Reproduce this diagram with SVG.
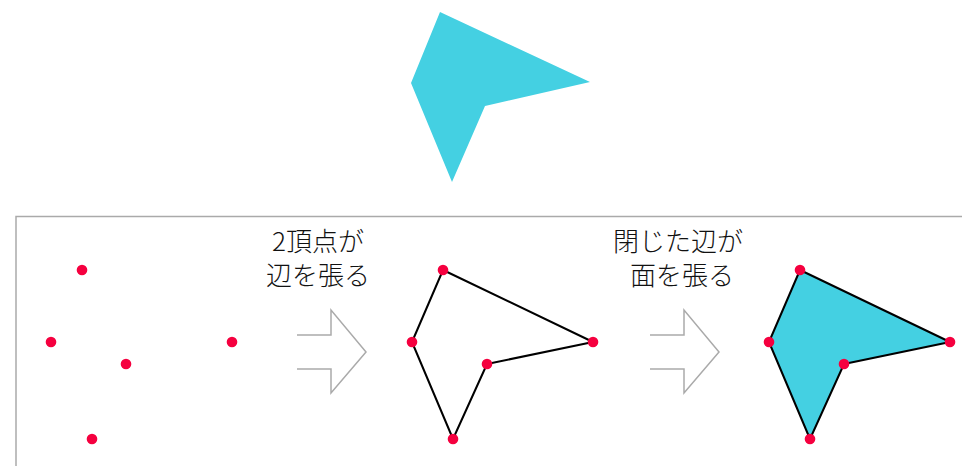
<svg xmlns="http://www.w3.org/2000/svg" width="962" height="466" viewBox="0 0 962 466">
<style>
.dot{fill:#f5003f}
.shape{fill:#44d0e2}
.edge{fill:none;stroke:#000;stroke-width:2;stroke-linejoin:round}
.arrow{fill:none;stroke:#aaa;stroke-width:1.5}
.lbl{font-family:"Noto Sans CJK JP","Noto Sans",sans-serif;font-size:26px;font-weight:300;fill:#111;text-anchor:middle}
</style>
<rect width="962" height="466" fill="#fff"/>
<g id="target">
<polygon class="shape" points="440,12 590,82 485,106 452,182 411,83"/>
</g>
<rect id="panel" x="16" y="216.5" width="960" height="260" fill="none" stroke="#aaa" stroke-width="1.5"/>
<g id="points">
<circle class="dot" cx="82" cy="270" r="5.3"/>
<circle class="dot" cx="51" cy="342" r="5.3"/>
<circle class="dot" cx="126" cy="364" r="5.3"/>
<circle class="dot" cx="232" cy="342" r="5.3"/>
<circle class="dot" cx="92" cy="439" r="5.3"/>
</g>
<g id="connectors">
<polyline class="arrow" points="297,335 331,335 331,310 366,352 331,393 331,369 297,369"/>
<polyline class="arrow" points="650,335 684,335 684,310 719,352 684,393 684,369 650,369"/>
</g>
<g id="label1">
<text class="lbl" x="318" y="251">2頂点が</text>
<text class="lbl" x="318" y="285">辺を張る</text>
</g>
<g id="edges">
<polygon class="edge" points="443,270 593,342 487,364 453,439 412,342"/>
<circle class="dot" cx="443" cy="270" r="5.3"/>
<circle class="dot" cx="593" cy="342" r="5.3"/>
<circle class="dot" cx="487" cy="364" r="5.3"/>
<circle class="dot" cx="453" cy="439" r="5.3"/>
<circle class="dot" cx="412" cy="342" r="5.3"/>
</g>
<g id="label2">
<text class="lbl" x="678" y="251">閉じた辺が</text>
<text class="lbl" x="682" y="285">面を張る</text>
</g>
<g id="face">
<polygon class="shape" points="800,270 950,342 844,364 810,439 769,342"/>
<polygon class="edge" points="800,270 950,342 844,364 810,439 769,342"/>
<circle class="dot" cx="800" cy="270" r="5.3"/>
<circle class="dot" cx="950" cy="342" r="5.3"/>
<circle class="dot" cx="844" cy="364" r="5.3"/>
<circle class="dot" cx="810" cy="439" r="5.3"/>
<circle class="dot" cx="769" cy="342" r="5.3"/>
</g>
</svg>
